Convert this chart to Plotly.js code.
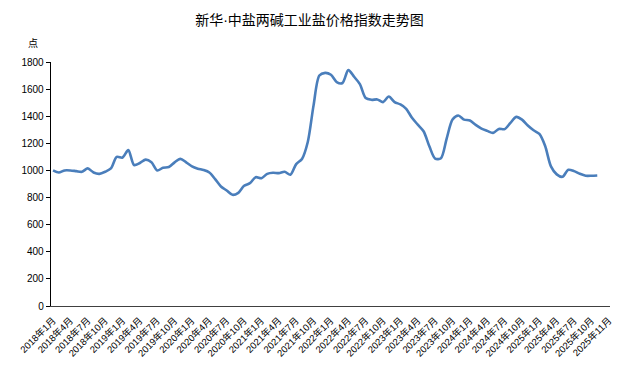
<!DOCTYPE html>
<html>
<head>
<meta charset="utf-8">
<script src="https://cdn.plot.ly/plotly-3.0.1.min.js"></script>
<style>html,body{margin:0;padding:0;background:#fff;}#chart{width:619px;height:377px;}</style>
</head>
<body>
<div id="chart"></div>
<script>
// Monthly index values, 2018-01 .. 2025-11
const monthIndex = [];
const indexValues = [
  1000, 985, 1000, 1000, 995, 990, 1015, 985, 975, 990, 1015, 1100,
  1095, 1150, 1040, 1055, 1080, 1060, 1000, 1020, 1025, 1060, 1085, 1060,
  1030, 1013, 1003, 985, 936, 882, 852, 820, 835, 887, 906, 950,
  943, 975, 983, 980, 990, 968, 1047, 1085, 1210, 1480, 1700, 1720,
  1706, 1652, 1645, 1740, 1691, 1637, 1534, 1521, 1524, 1504, 1545, 1504,
  1487, 1455, 1388, 1338, 1289, 1178, 1087, 1090, 1237, 1375, 1405, 1375,
  1368, 1336, 1309, 1292, 1277, 1306, 1305, 1351, 1395, 1375, 1331, 1296,
  1269, 1180, 1030, 971, 953, 1005, 995, 975, 961, 961, 963
];
for (let i = 0; i < indexValues.length; i++) monthIndex.push(i);

const tickLabels = [
  "2018年1月","2018年4月","2018年7月","2018年10月",
  "2019年1月","2019年4月","2019年7月","2019年10月",
  "2020年1月","2020年4月","2020年7月","2020年10月",
  "2021年1月","2021年4月","2021年7月","2021年10月",
  "2022年1月","2022年4月","2022年7月","2022年10月",
  "2023年1月","2023年4月","2023年7月","2023年10月",
  "2024年1月","2024年4月","2024年7月","2024年10月",
  "2025年1月","2025年4月","2025年7月","2025年10月",
  "2025年11月"
];
const tickPositions = tickLabels.map((_, i) => i * 3);

const FONT = '"Liberation Sans", "Noto Sans CJK SC", sans-serif';

Plotly.newPlot('chart', [{
  x: monthIndex,
  y: indexValues,
  type: 'scatter',
  mode: 'lines',
  line: {color: '#4a7ebb', width: 2.6, shape: 'spline', smoothing: 0.8},
  hoverinfo: 'skip'
}], {
  width: 619, height: 377,
  margin: {l: 51, r: 9, t: 62, b: 71},
  paper_bgcolor: '#ffffff', plot_bgcolor: '#ffffff',
  showlegend: false,
  font: {family: FONT, color: '#000000'},
  title: {text: '新华·中盐两碱工业盐价格指数走势图', font: {family: FONT, size: 14, color: '#000000'},
          x: 0.5, xanchor: 'center', y: 0.947, yanchor: 'middle'},
  xaxis: {
    range: [-0.35, 96.2], tickmode: 'array', tickvals: tickPositions, ticktext: tickLabels,
    tickangle: -45, tickfont: {family: FONT, size: 9.5, color: '#000000'}, ticklabelstandoff: 4,
    showline: true, linecolor: '#404040', linewidth: 1.3, ticks: '', showgrid: false, zeroline: false
  },
  yaxis: {
    range: [0, 1800], tickmode: 'array', tickvals: [0,200,400,600,800,1000,1200,1400,1600,1800],
    tickfont: {family: FONT, size: 10, color: '#000000'},
    showline: true, linecolor: '#000000', linewidth: 1.3, ticks: 'outside', ticklen: 4, tickcolor: '#000000',
    showgrid: false, zeroline: false
  },
  annotations: [{
    text: '点', xref: 'paper', yref: 'paper', x: -0.032, y: 1.077, xanchor: 'center', yanchor: 'middle',
    showarrow: false, font: {family: FONT, size: 10, color: '#000000'}
  }]
}, {staticPlot: true});
</script>
</body>
</html>
